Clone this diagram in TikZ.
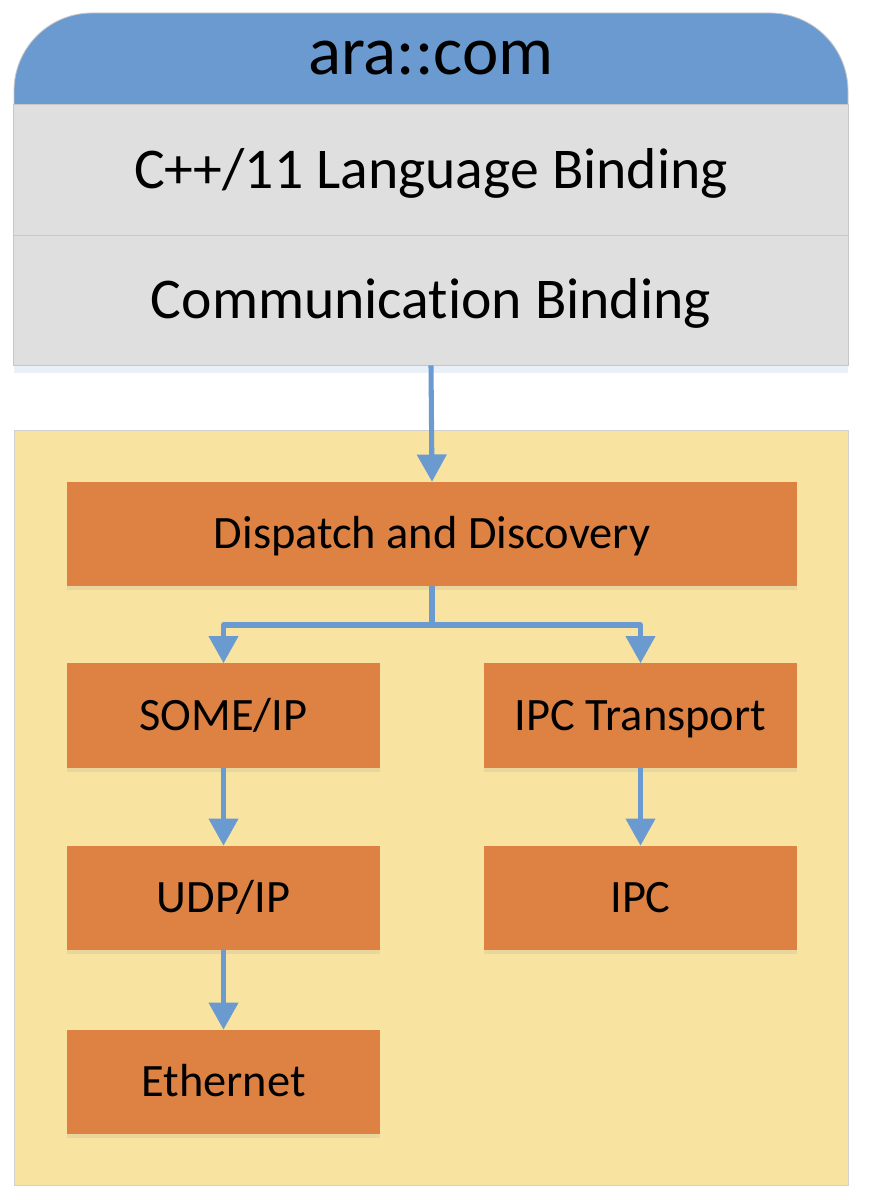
\documentclass[tikz,border=0pt]{standalone}
\usepackage{fontspec}
\setmainfont{Carlito}[Ligatures=NoCommon]
\usetikzlibrary{shadows,arrows.meta}

\definecolor{hdrblue}{HTML}{6A9AD0}
\definecolor{bindgray}{HTML}{DFDFDF}
\definecolor{stackyellow}{HTML}{F8E3A1}
\definecolor{layerorange}{HTML}{DE8244}

\tikzset{
    binding/.style={draw=black!22, fill=bindgray, line width=0.6pt, inner sep=0pt,
        minimum width=20.85cm, text height=26.4pt, text depth=0pt,
        font=\fontsize{41}{48}\selectfont},
    layer/.style={fill=layerorange, inner sep=0pt, minimum height=2.6cm,
        text height=21.3pt, text depth=0pt, font=\fontsize{33}{39}\selectfont,
        drop shadow={shadow xshift=0pt, shadow yshift=-3pt, opacity=0.12}},
    link/.style={draw=hdrblue, line width=3.6pt, line join=round,
        -{Triangle[width=0.72cm,length=0.68cm]}}
}

\begin{document}
\begin{tikzpicture}[x=0.025cm, y=-0.025cm]
    \useasboundingbox (0,0) rectangle (870,1200);
    % ara::com block
    \fill[hdrblue, draw=black!22, line width=0.6pt, rounded corners=1.95cm] (14,13) rectangle (848,200);
    \node[text height=22.8pt, text depth=0pt, font=\fontsize{49}{56}\selectfont] (hdr) at (431,58) {ara::com};
    \node[binding, minimum height=3.275cm,
        drop shadow={shadow xshift=0pt, shadow yshift=-5pt, color=hdrblue, opacity=0.15}]
        (lang) at (431,169.5) {C++/11 Language Binding};
    \node[binding, minimum height=3.25cm,
        drop shadow={shadow xshift=0pt, shadow yshift=-6pt, color=hdrblue, opacity=0.15}]
        (comm) at (431,300) {Communication Binding};
    % transport stack
    \draw[draw=black!18, fill=stackyellow, line width=0.6pt] (14,430) rectangle (848,1185);
    \node[layer, minimum width=18.25cm] (disp) at (432,534) {Dispatch and Discovery};
    \node[layer, minimum width=7.825cm] (some) at (223.5,715.5) {SOME/IP};
    \node[layer, minimum width=7.825cm] (ipct) at (640.5,715.5) {IPC Transport};
    \node[layer, minimum width=7.825cm] (udp) at (223.5,898) {UDP/IP};
    \node[layer, minimum width=7.825cm] (ipc) at (640.5,898) {IPC};
    \node[layer, minimum width=7.825cm] (eth) at (223.5,1082) {Ethernet};
    \coordinate (split) at (432,625);
    \draw[link] (comm.south) -- (disp.north);
    \draw[link] (disp.south) -- (split) -| (some.north);
    \draw[link] (split) -| (ipct.north);
    \draw[link] (some) -- (udp);
    \draw[link] (udp) -- (eth);
    \draw[link] (ipct) -- (ipc);
\end{tikzpicture}
\end{document}
